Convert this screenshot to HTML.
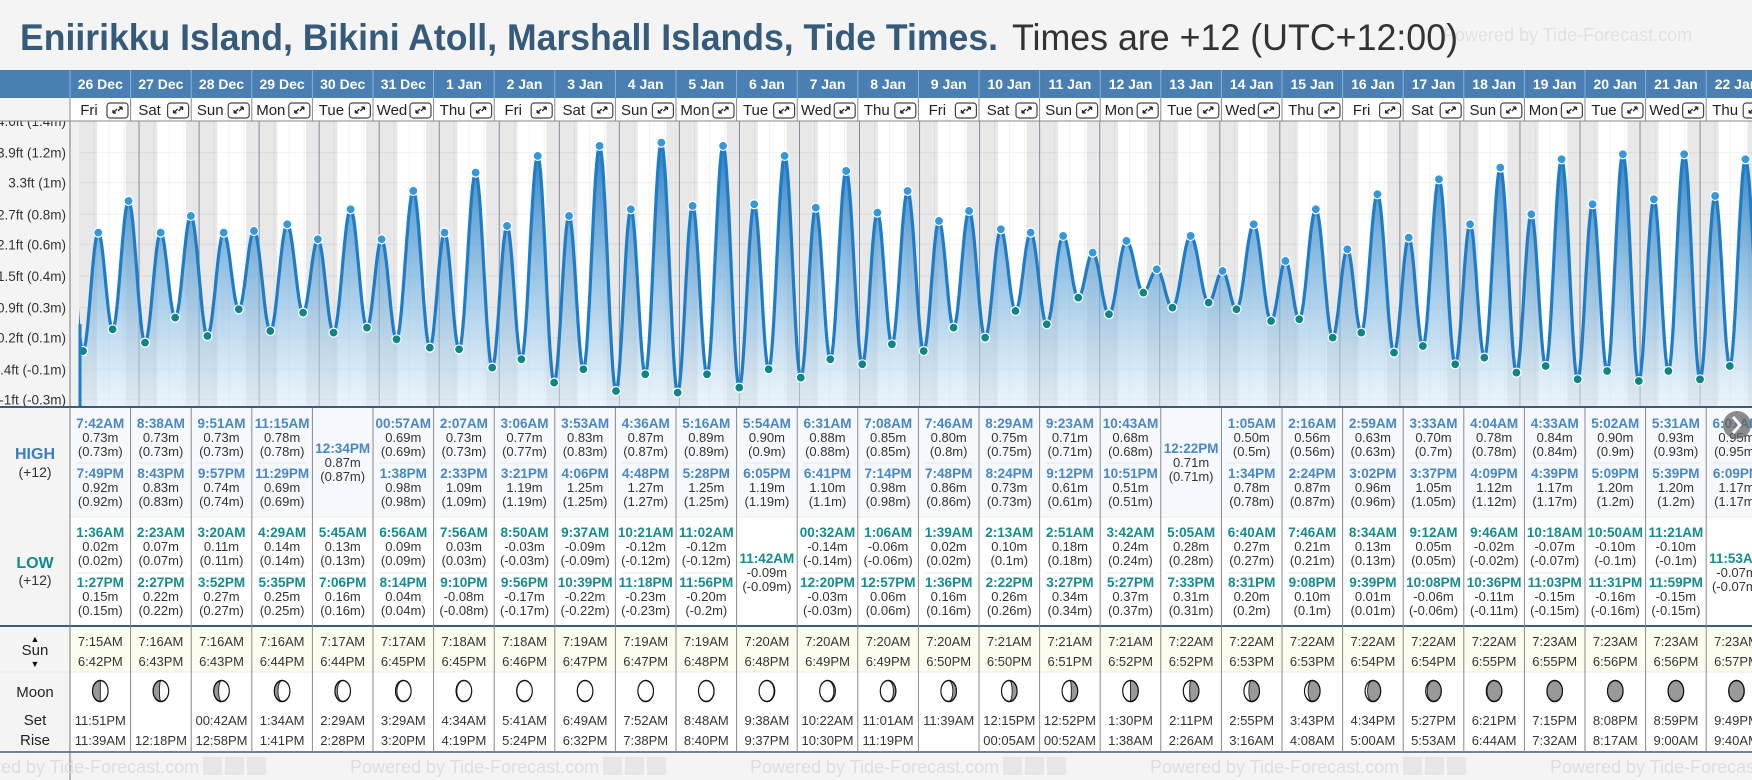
<!DOCTYPE html>
<html><head><meta charset="utf-8"><style>
html,body{margin:0;padding:0;background:#f4f4f4;width:1752px;height:780px;overflow:hidden}
svg{display:block;font-family:"Liberation Sans",sans-serif}
</style></head><body>
<svg id="root" width="1752" height="780" viewBox="0 0 1752 780" xmlns="http://www.w3.org/2000/svg">
<defs>
<linearGradient id="fillG" x1="0" y1="0" x2="0" y2="1">
<stop offset="0" stop-color="#1f78c0" stop-opacity="0.95"/>
<stop offset="0.6" stop-color="#74b0dd" stop-opacity="0.6"/>
<stop offset="1" stop-color="#d8eaf7" stop-opacity="0.5"/>
</linearGradient>
<clipPath id="chartClip"><rect x="79" y="121" width="1673" height="285"/></clipPath>
</defs>
<rect x="0" y="0" width="1752" height="780" fill="#f4f4f4"/>
<text x="1443" y="41" font-size="18" fill="#e2e2e2">Powered by Tide-Forecast.com</text>
<text x="20" y="50" font-size="37" font-weight="bold" fill="#365a7a" textLength="978" lengthAdjust="spacingAndGlyphs">Eniirikku Island, Bikini Atoll, Marshall Islands, Tide Times.</text>
<text x="1012" y="50" font-size="37" fill="#333" textLength="446" lengthAdjust="spacingAndGlyphs">Times are +12 (UTC+12:00)</text>
<g id="g"></g>
</svg>
<script>
const dates=["26 Dec","27 Dec","28 Dec","29 Dec","30 Dec","31 Dec","1 Jan","2 Jan","3 Jan","4 Jan","5 Jan","6 Jan","7 Jan","8 Jan","9 Jan","10 Jan","11 Jan","12 Jan","13 Jan","14 Jan","15 Jan","16 Jan","17 Jan","18 Jan","19 Jan","20 Jan","21 Jan","22 Jan"];
const weekdays=["Fri","Sat","Sun","Mon","Tue","Wed","Thu","Fri","Sat","Sun","Mon","Tue","Wed","Thu","Fri","Sat","Sun","Mon","Tue","Wed","Thu","Fri","Sat","Sun","Mon","Tue","Wed","Thu"];
const highs=[["7:42AM",0.73,"7:49PM",0.92],["8:38AM",0.73,"8:43PM",0.83],["9:51AM",0.73,"9:57PM",0.74],["11:15AM",0.78,"11:29PM",0.69],["12:34PM",0.87],["00:57AM",0.69,"1:38PM",0.98],["2:07AM",0.73,"2:33PM",1.09],["3:06AM",0.77,"3:21PM",1.19],["3:53AM",0.83,"4:06PM",1.25],["4:36AM",0.87,"4:48PM",1.27],["5:16AM",0.89,"5:28PM",1.25],["5:54AM",0.90,"6:05PM",1.19],["6:31AM",0.88,"6:41PM",1.10],["7:08AM",0.85,"7:14PM",0.98],["7:46AM",0.80,"7:48PM",0.86],["8:29AM",0.75,"8:24PM",0.73],["9:23AM",0.71,"9:12PM",0.61],["10:43AM",0.68,"10:51PM",0.51],["12:22PM",0.71],["1:05AM",0.50,"1:34PM",0.78],["2:16AM",0.56,"2:24PM",0.87],["2:59AM",0.63,"3:02PM",0.96],["3:33AM",0.70,"3:37PM",1.05],["4:04AM",0.78,"4:09PM",1.12],["4:33AM",0.84,"4:39PM",1.17],["5:02AM",0.90,"5:09PM",1.20],["5:31AM",0.93,"5:39PM",1.20],["6:01AM",0.95,"6:09PM",1.17]];
const lows=[["1:36AM",0.02,"1:27PM",0.15],["2:23AM",0.07,"2:27PM",0.22],["3:20AM",0.11,"3:52PM",0.27],["4:29AM",0.14,"5:35PM",0.25],["5:45AM",0.13,"7:06PM",0.16],["6:56AM",0.09,"8:14PM",0.04],["7:56AM",0.03,"9:10PM",-0.08],["8:50AM",-0.03,"9:56PM",-0.17],["9:37AM",-0.09,"10:39PM",-0.22],["10:21AM",-0.12,"11:18PM",-0.23],["11:02AM",-0.12,"11:56PM",-0.20],["11:42AM",-0.09],["00:32AM",-0.14,"12:20PM",-0.03],["1:06AM",-0.06,"12:57PM",0.06],["1:39AM",0.02,"1:36PM",0.16],["2:13AM",0.10,"2:22PM",0.26],["2:51AM",0.18,"3:27PM",0.34],["3:42AM",0.24,"5:27PM",0.37],["5:05AM",0.28,"7:33PM",0.31],["6:40AM",0.27,"8:31PM",0.20],["7:46AM",0.21,"9:08PM",0.10],["8:34AM",0.13,"9:39PM",0.01],["9:12AM",0.05,"10:08PM",-0.06],["9:46AM",-0.02,"10:36PM",-0.11],["10:18AM",-0.07,"11:03PM",-0.15],["10:50AM",-0.10,"11:31PM",-0.16],["11:21AM",-0.10,"11:59PM",-0.15],["11:53AM",-0.07]];
const sunrise=["7:15AM","7:16AM","7:16AM","7:16AM","7:17AM","7:17AM","7:18AM","7:18AM","7:19AM","7:19AM","7:19AM","7:20AM","7:20AM","7:20AM","7:20AM","7:21AM","7:21AM","7:21AM","7:22AM","7:22AM","7:22AM","7:22AM","7:22AM","7:22AM","7:23AM","7:23AM","7:23AM","7:23AM"];
const sunset=["6:42PM","6:43PM","6:43PM","6:44PM","6:44PM","6:45PM","6:45PM","6:46PM","6:47PM","6:47PM","6:48PM","6:48PM","6:49PM","6:49PM","6:50PM","6:50PM","6:51PM","6:52PM","6:52PM","6:53PM","6:53PM","6:54PM","6:54PM","6:55PM","6:55PM","6:56PM","6:56PM","6:57PM"];
const moonset=["11:51PM","","00:42AM","1:34AM","2:29AM","3:29AM","4:34AM","5:41AM","6:49AM","7:52AM","8:48AM","9:38AM","10:22AM","11:01AM","11:39AM","12:15PM","12:52PM","1:30PM","2:11PM","2:55PM","3:43PM","4:34PM","5:27PM","6:21PM","7:15PM","8:08PM","8:59PM","9:49PM"];
const moonrise=["11:39AM","12:18PM","12:58PM","1:41PM","2:28PM","3:20PM","4:19PM","5:24PM","6:32PM","7:38PM","8:40PM","9:37PM","10:30PM","11:19PM","","00:05AM","00:52AM","1:38AM","2:26AM","3:16AM","4:08AM","5:00AM","5:53AM","6:44AM","7:32AM","8:17AM","9:00AM","9:40AM"];
const moonPhase=[0.25,0.28,0.31,0.34,0.37,0.40,0.43,0.46,0.49,0.51,0.54,0.57,0.60,0.63,0.66,0.69,0.72,0.75,0.78,0.81,0.84,0.87,0.90,0.93,0.96,0.99,0.02,0.05];
const tickM=[-0.27,-0.09,0.10,0.28,0.47,0.66,0.84,1.03,1.21,1.40];
const tickLabels=["-1ft (-0.3m)","-0.4ft (-0.1m)","0.2ft (0.1m)","0.9ft (0.3m)","1.5ft (0.4m)","2.1ft (0.6m)","2.7ft (0.8m)","3.3ft (1m)","3.9ft (1.2m)","4.6ft (1.4m)"];

const NS="http://www.w3.org/2000/svg";
const G=document.getElementById('g');
function mk(tag,attrs,parent){const e=document.createElementNS(NS,tag);for(const k in attrs)e.setAttribute(k,attrs[k]);(parent||G).appendChild(e);return e;}
function txt(x,y,s,attrs,parent){const e=mk('text',Object.assign({x:x,y:y},attrs),parent);e.textContent=s;return e;}
function hrs(s){const m=s.match(/(\d+):(\d+)(AM|PM)/);let h=(+m[1])%12;if(m[3]==="PM")h+=12;return h+(+m[2])/60;}
const COLX=70,COLW=60.6,CX0=79,DAYW=60.04,CT=121,CB=406;
const xT=t=>CX0+t*DAYW;
const yM=m=>354.3-166.7*m;
const colL=i=>COLX+i*COLW;

let e=mk('rect',{x:70,y:CT,width:1682,height:CB-CT,fill:'#fff'});


mk('rect',{x:0,y:121,width:70,height:285,fill:'#f4f4f4'});
mk('rect',{x:70,y:121,width:9,height:285,fill:'#f0f0f0'});
dates.forEach((d,i)=>{
  const r=hrs(sunrise[i])/24,s=hrs(sunset[i])/24;
  let n=mk('rect',{x:xT(i),y:CT,width:r*DAYW,height:CB-CT,fill:'#e8e8e8'});
  
  
  n=mk('rect',{x:xT(i+s),y:CT,width:(1-s)*DAYW,height:CB-CT,fill:'#e8e8e8'});
  
  
  for(let q=1;q<4;q++)mk('line',{x1:xT(i+q/4),x2:xT(i+q/4),y1:CT,y2:CB,stroke:'#000',"stroke-opacity":0.05,"stroke-width":1});
});
tickM.forEach((m,i)=>{
  const y=yM(m);
  mk('line',{x1:79,x2:1752,y1:y,y2:y,stroke:'#000',"stroke-opacity":0.05});
  const t=txt(66,y+5,tickLabels[i],{"font-size":13.5,fill:'#333',"text-anchor":'end'});
  
  
});
for(let i=1;i<dates.length;i++){const l=mk('line',{x1:xT(i),x2:xT(i),y1:CT,y2:CB,stroke:'#7d8c9b',"stroke-width":1});
  
  }
const ev=[];
highs.forEach((h,i)=>{for(let k=0;k<h.length;k+=2)ev.push({t:i+hrs(h[k])/24,v:h[k+1],hi:true});});
lows.forEach((h,i)=>{for(let k=0;k<h.length;k+=2)ev.push({t:i+hrs(h[k])/24,v:h[k+1],hi:false});});
ev.sort((a,b)=>a.t-b.t);
const all=[{t:-0.2,v:0.95}].concat(ev,[{t:28.03,v:-0.02}]);
let pts=[];
for(let k=0;k<all.length-1;k++){const a=all[k],b=all[k+1];
  for(let s=0;s<16;s++){const f=s/16;const v=a.v+(b.v-a.v)*(1-Math.cos(Math.PI*f))/2;const t=a.t+(b.t-a.t)*f;pts.push([xT(t),yM(v)]);}}
pts.push([xT(all[all.length-1].t),yM(all[all.length-1].v)]);
const cg=mk('g',{"clip-path":'url(#chartClip)'});


const dl=pts.map((p,i)=>(i?'L':'M')+p[0].toFixed(1)+' '+p[1].toFixed(1)).join('');
e=mk('path',{d:dl+`L${pts[pts.length-1][0]} ${CB}L${pts[0][0]} ${CB}Z`,fill:'url(#fillG)'},cg);


e=mk('path',{d:dl,fill:'none',stroke:'#1f7cc6',"stroke-width":3.2},cg);


mk('line',{x1:80,x2:80,y1:yM(0.18),y2:CB,stroke:'#1f7cc6',"stroke-width":3});
ev.forEach(p=>{const c=mk('circle',{cx:xT(p.t),cy:yM(p.v),r:4.5,fill:p.hi?'#3498db':'#0f8585',stroke:'#fff',"stroke-width":1.2},cg);
  
  });
mk('line',{x1:70,x2:70,y1:CT,y2:CB,stroke:'#777'});

mk('rect',{x:0,y:70,width:1752,height:28,fill:'#4a7fb3'});
mk('rect',{x:0,y:98,width:70,height:23,fill:'#f4f4f4'});
mk('rect',{x:70,y:98,width:1682,height:23,fill:'#fff'});
dates.forEach((d,i)=>{
  const x=colL(i);
  mk('line',{x1:x,x2:x,y1:70,y2:98,stroke:'#8fb2d4'});
  let t=txt(x+COLW/2,89,d,{"font-size":14,"font-weight":'bold',fill:'#fff',"text-anchor":'middle'});
  
  
  mk('line',{x1:x,x2:x,y1:98,y2:121,stroke:'#888'});
  t=txt(x+19,115,weekdays[i],{"font-size":15,fill:'#222',"text-anchor":'middle'});
  
  
  const b=mk('g',{});
  
  
  mk('rect',{x:x+37,y:103,width:21,height:15,rx:3,fill:'#fff',stroke:'#444',"stroke-width":1.2},b);
  mk('path',{d:`M${x+43} ${113}l4 -4M${x+52} ${107}l-4 4M${x+43} ${113}v-3M${x+43} ${113}h3M${x+52} ${107}v3M${x+52} ${107}h-3`,stroke:'#222',"stroke-width":1.3,fill:'none'},b);
});
mk('line',{x1:0,x2:1752,y1:121,y2:121,stroke:'#888'});

mk('rect',{x:0,y:408,width:70,height:344,fill:'#f4f4f4'});
mk('rect',{x:70,y:408,width:1682,height:109,fill:'#f5f9fd'});
mk('rect',{x:70,y:517,width:1682,height:109,fill:'#fff'});
mk('rect',{x:70,y:627,width:1682,height:45,fill:'#fdfdef'});
mk('rect',{x:70,y:672,width:1682,height:80,fill:'#fff'});
mk('rect',{x:0,y:406,width:1752,height:2,fill:'#3e5c7a'});
mk('rect',{x:0,y:625,width:1752,height:2,fill:'#3e5c7a'});
mk('line',{x1:70,x2:1752,y1:517,y2:517,stroke:'#e6e9ee'});
mk('line',{x1:0,x2:1752,y1:672,y2:672,stroke:'#ececec'});
mk('line',{x1:0,x2:1752,y1:752,y2:752,stroke:'#3e5c7a',"stroke-width":1.5});
let L=txt(35,459,'HIGH',{"font-size":16,"font-weight":'bold',fill:'#3d7dbf',"text-anchor":'middle'});

txt(35,477,'(+12)',{"font-size":14,fill:'#333',"text-anchor":'middle'});
L=txt(35,568,'LOW',{"font-size":16,"font-weight":'bold',fill:'#128a8e',"text-anchor":'middle'});

txt(35,585,'(+12)',{"font-size":14,fill:'#333',"text-anchor":'middle'});
txt(35,642,'▲',{"font-size":9,fill:'#111',"text-anchor":'middle'});
L=txt(35,655,'Sun',{"font-size":15,fill:'#222',"text-anchor":'middle'});

txt(35,667,'▼',{"font-size":9,fill:'#111',"text-anchor":'middle'});
L=txt(35,697,'Moon',{"font-size":15,fill:'#222',"text-anchor":'middle'});

txt(35,725,'Set',{"font-size":15,fill:'#222',"text-anchor":'middle'});
txt(35,745,'Rise',{"font-size":15,fill:'#222',"text-anchor":'middle'});
mk('line',{x1:70,x2:70,y1:408,y2:780,stroke:'#777'});

function paren(v){return '('+parseFloat(v.toFixed(2))+'m)';}
function entry(cx,y,time,v,col,name){
  const t=txt(cx,y,time,{"font-size":13.5,"font-weight":'bold',fill:col,"text-anchor":'middle'});
  
  
  txt(cx,y+14,v.toFixed(2)+'m',{"font-size":13,fill:'#333',"text-anchor":'middle'});
  txt(cx,y+28,paren(v),{"font-size":13,fill:'#333',"text-anchor":'middle'});
}
function moonIcon(cx,cy,p){
  const r=10,g=mk('g',{transform:`translate(${cx},${cy}) scale(0.78,1.05)`});
  
  
  mk('circle',{cx:0,cy:0,r:r,fill:'#fff'},g);
  const k=Math.cos(2*Math.PI*p),rx=Math.max(0.01,Math.abs(k)*r);
  const waxing=p<0.5;
  const side=waxing?0:1;
  let sweep2;
  if(waxing)sweep2=k>0?0:1; else sweep2=k<0?0:1;
  mk('path',{d:`M0 ${-r}A${r} ${r} 0 0 ${side} 0 ${r}A${rx} ${r} 0 0 ${sweep2} 0 ${-r}Z`,fill:'#999',stroke:'#222',"stroke-width":1.2},g);
  mk('circle',{cx:0,cy:0,r:r,fill:'none',stroke:'#111',"stroke-width":1.5},g);
}
dates.forEach((d,i)=>{
  const x=colL(i),cx=x+COLW/2;
  mk('line',{x1:x+COLW,x2:x+COLW,y1:408,y2:752,stroke:'#888'});
  const h=highs[i];
  if(h.length===4){entry(cx,428,h[0],h[1],'#4a86c5','high-tide-time');mk('line',{x1:x+6,x2:x+COLW-6,y1:463,y2:463,stroke:'#e3e7ec'});entry(cx,478,h[2],h[3],'#4a86c5','high-tide-time');}
  else entry(cx,453,h[0],h[1],'#4a86c5','high-tide-time');
  const l=lows[i];
  if(l.length===4){entry(cx,537,l[0],l[1],'#158b8f','low-tide-time');mk('line',{x1:x+6,x2:x+COLW-6,y1:573,y2:573,stroke:'#e3e7ec'});entry(cx,587,l[2],l[3],'#158b8f','low-tide-time');}
  else entry(cx,563,l[0],l[1],'#158b8f','low-tide-time');
  let t=txt(cx,646,sunrise[i],{"font-size":13,fill:'#333',"text-anchor":'middle'});
  
  
  t=txt(cx,666,sunset[i],{"font-size":13,fill:'#333',"text-anchor":'middle'});
  
  
  moonIcon(cx,691,moonPhase[i]);
  t=txt(cx,725,moonset[i],{"font-size":13,fill:'#333',"text-anchor":'middle'});
  
  
  t=txt(cx,745,moonrise[i],{"font-size":13,fill:'#333',"text-anchor":'middle'});
  
  
});
mk('rect',{x:0,y:753,width:1752,height:27,fill:'#f4f4f4'});
mk('line',{x1:70,x2:70,y1:753,y2:780,stroke:'#777'});
for(let k=0;k<5;k++){const t=txt(-50+k*400,773,'Powered by Tide-Forecast.com',{"font-size":18,fill:'#dedede'});
  
  
  for(let q=0;q<3;q++)mk('rect',{x:203+k*400+q*22,y:757,width:19,height:18,fill:'#e6e6e6'});}
const sb=mk('g',{});


mk('circle',{cx:1737,cy:425,r:14,fill:'#666',"fill-opacity":0.75},sb);
mk('path',{d:'M1733 417l7 8l-7 8',stroke:'#fff',"stroke-width":3,fill:'none'},sb);
</script>
</body></html>
